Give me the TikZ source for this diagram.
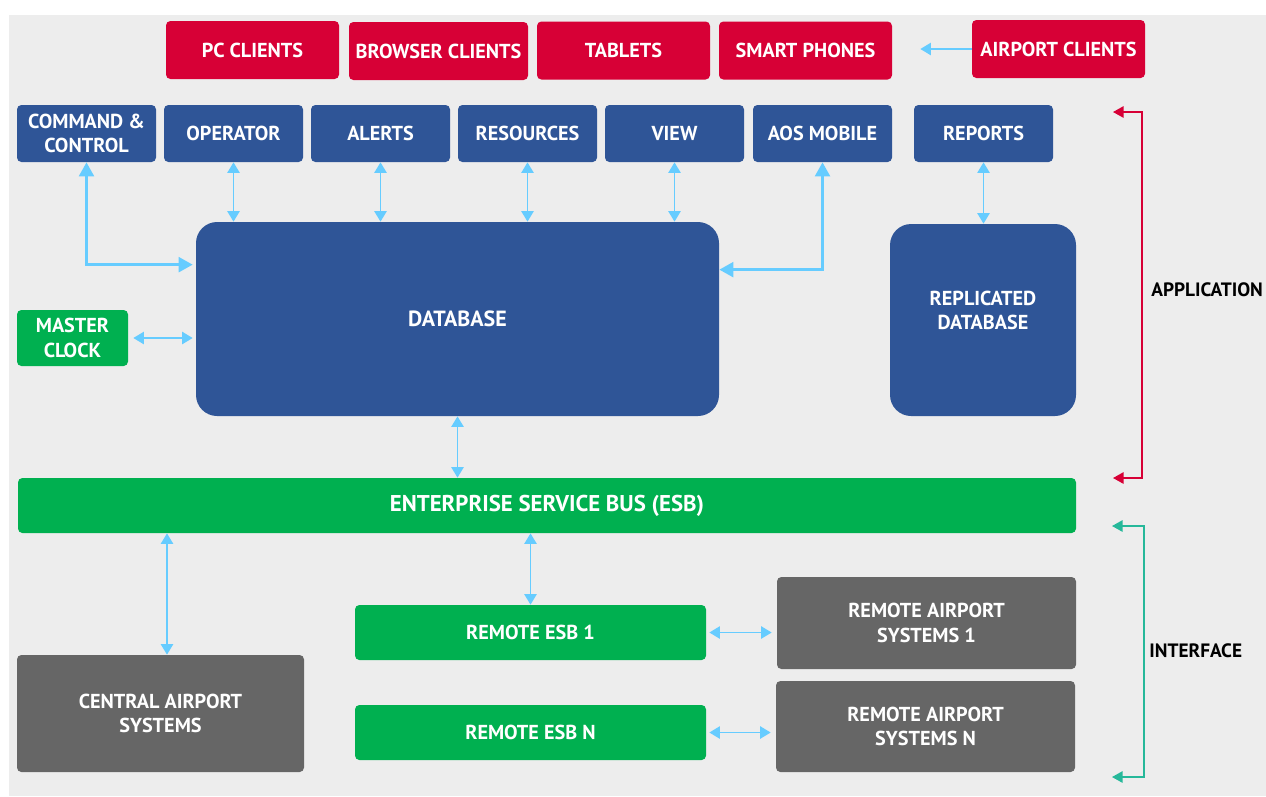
\documentclass[tikz,border=0pt]{standalone}
\usepackage{fontspec}
\setmainfont{PT Sans}
\usetikzlibrary{arrows.meta}

\definecolor{clientred}{RGB}{215,0,54}
\definecolor{appblue}{RGB}{47,85,151}
\definecolor{busgreen}{RGB}{0,176,80}
\definecolor{sysgray}{RGB}{102,102,102}
\definecolor{linkblue}{RGB}{102,204,255}
\definecolor{panelgray}{RGB}{237,237,237}
\definecolor{ifgreen}{RGB}{38,184,154}

\newcommand{\pxu}{0.02cm}

\begin{document}
\begin{tikzpicture}[x=0.02cm, y=-0.02cm,
    box/.style ={rectangle, rounded corners=2.5pt, text=white, align=center,
      inner sep=0pt, font=\bfseries\fontsize{11.5}{14}\selectfont},
    client/.style ={box, fill=clientred, minimum height=58*\pxu},
    module/.style ={box, fill=appblue, minimum width=139*\pxu, minimum height=57*\pxu},
    store/.style ={box, fill=appblue, rounded corners=12pt},
    bus/.style ={box, fill=busgreen},
    system/.style ={box, fill=sysgray},
    link/.style ={draw=linkblue, line width=0.9pt,
      {Triangle[length=6pt,width=7pt]}-{Triangle[length=6pt,width=7pt]}},
    biglink/.style ={draw=linkblue, line width=1.5pt,
      {Triangle[length=8pt,width=8.5pt]}-{Triangle[length=8pt,width=8.5pt]}},
    layer/.style ={line width=0.8pt,
      {Triangle[length=6pt,width=6.5pt]}-{Triangle[length=6pt,width=6.5pt]}},
    layername/.style ={anchor=west, inner sep=0pt, font=\bfseries\fontsize{11}{12.5}\selectfont}]

   % panel
   \useasboundingbox (0,0) rectangle (1266,796);
   \fill[panelgray] (9,15) rectangle (1266,796);

   % clients
   \node[client, minimum width=173*\pxu] (pc) at (252.5,50) {PC CLIENTS};
   \node[client, minimum width=179*\pxu] (browser) at (438.5,51) {BROWSER CLIENTS};
   \node[client, minimum width=173*\pxu] (tablets) at (623.5,50.5) {TABLETS};
   \node[client, minimum width=173*\pxu] (phones) at (805.5,50.5) {SMART PHONES};
   \node[client, minimum width=173*\pxu] (apclients) at (1058.5,49) {AIRPORT CLIENTS};

   % application modules
   \node[module] (cc) at (86.5,133.5) {COMMAND \&\\CONTROL};
   \node[module] (operator) at (233.5,133.5) {OPERATOR};
   \node[module] (alerts) at (380.5,133.5) {ALERTS};
   \node[module] (resources) at (527.5,133.5) {RESOURCES};
   \node[module] (view) at (674.5,133.5) {VIEW};
   \node[module] (aos) at (822.5,133.5) {AOS MOBILE};
   \node[module] (reports) at (983.5,133.5) {REPORTS};

   \node[store, minimum width=523*\pxu, minimum height=194*\pxu,
     font=\bfseries\fontsize{12.5}{14}\selectfont] (db) at (457.5,319) {DATABASE};
   \node[store, minimum width=186*\pxu, minimum height=192*\pxu, text depth=11pt] (repl) at (983,320) {REPLICATED\\DATABASE};
   \node[bus, minimum width=111*\pxu, minimum height=56*\pxu] (clock) at (72.5,338) {MASTER\\CLOCK};

   % interface layer
   \node[bus, minimum width=1058*\pxu, minimum height=55*\pxu,
     font=\bfseries\fontsize{13}{15}\selectfont] (esb) at (547,505.5) {ENTERPRISE SERVICE BUS (ESB)};
   \node[bus, minimum width=351*\pxu, minimum height=55*\pxu] (resb1) at (530.5,632.5) {REMOTE ESB 1};
   \node[bus, minimum width=351*\pxu, minimum height=55*\pxu] (resbn) at (530.5,732.5) {REMOTE ESB N};
   \node[system, minimum width=299*\pxu, minimum height=92*\pxu] (ras1) at (926.5,623) {REMOTE AIRPORT\\SYSTEMS 1};
   \node[system, minimum width=299*\pxu, minimum height=91*\pxu] (rasn) at (925.5,726.5) {REMOTE AIRPORT\\SYSTEMS N};
   \node[system, minimum width=287*\pxu, minimum height=117*\pxu] (central) at (160.5,713.5) {CENTRAL AIRPORT\\SYSTEMS};

   % connectors
   \draw[draw=linkblue, line width=0.9pt, -{Triangle[length=6pt,width=7pt]},
     shorten >=28*\pxu] (apclients.west) -- (apclients.west -| phones.east);
   \draw[biglink, shorten >=3*\pxu] (cc.south) |- ([yshift=-0.86cm]db.north west);
   \draw[biglink] (aos.south) |- ([yshift=-0.96cm]db.north east);
   \foreach \m in {operator, alerts, resources, view}
     \draw[link] (\m.south) -- (\m.south |- db.north);
   \draw[link] (reports.south) -- (reports.south |- repl.north);
   \draw[link, shorten <=5*\pxu, shorten >=3*\pxu] (clock.east) -- (clock.east -| db.west);
   \draw[link] (db.south) -- (db.south |- esb.north);
   \draw[link] ([xshift=0.13cm]central.north) -- ([xshift=0.13cm]central.north |- esb.south);
   \draw[link] (resb1.north) -- (resb1.north |- esb.south);
   \draw[link, shorten <=3*\pxu, shorten >=5*\pxu] (resb1.east) -- (resb1.east -| ras1.west);
   \draw[link, shorten <=3*\pxu, shorten >=5*\pxu] (resbn.east) -- (resbn.east -| rasn.west);

   % layer brackets
   \node[layername] (applabel) at (1151,290) {APPLICATION};
   \node[layername] (iflabel) at (1149,651) {INTERFACE};
   \coordinate (apptop) at (1113,112);
   \coordinate (appbot) at (1113,478);
   \coordinate (iftop) at (1112,526);
   \coordinate (ifbot) at (1112,777);
   \draw[layer, clientred] (apptop) -| ([xshift=-0.18cm]applabel.west) |- (appbot);
   \draw[layer, ifgreen] (iftop) -| ([xshift=-0.1cm]iflabel.west) |- (ifbot);
 \end{tikzpicture}
\end{document}
